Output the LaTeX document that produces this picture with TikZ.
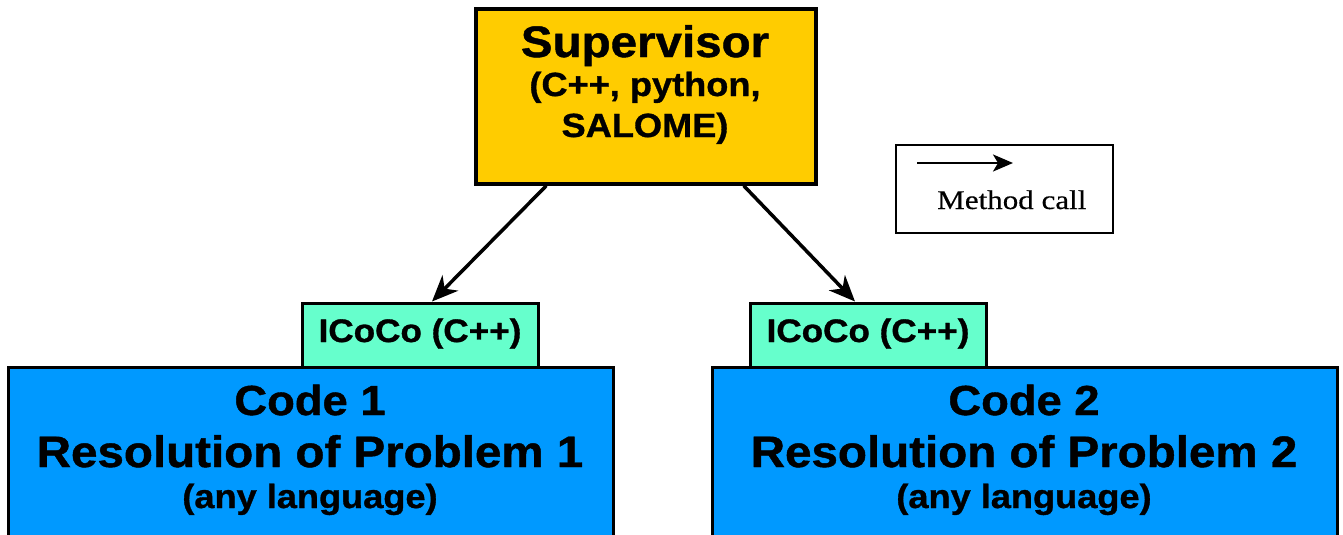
\documentclass[tikz,border=0pt]{standalone}
\usepackage{fontspec}
\setmainfont{Liberation Serif}
\setsansfont{Liberation Sans}
\newfontfamily\arialwide{Liberation Sans}[FakeStretch=1.08,FakeBold=1]
\newfontfamily\serifwide{Liberation Serif}[FakeStretch=1.15,FakeBold=0.4]
\usetikzlibrary{arrows.meta}
\definecolor{supgold}{HTML}{FFCC00}
\definecolor{icteal}{HTML}{66FFCC}
\definecolor{codeblue}{HTML}{0099FF}
\begin{document}
\begin{tikzpicture}[x=1pt,y=-1pt,
  box/.style={draw=black, line width=3pt, rectangle, inner sep=0pt},
  lbl/.style={anchor=base, inner sep=0pt, font=\arialwide\bfseries},
  call/.style={-{Stealth[length=26pt,width=22pt,inset=8pt]}, line width=3.5pt},
]
\useasboundingbox (0,0) rectangle (1343,535);
\clip (0,0) rectangle (1343,535);

% supervisor
\node[box, fill=supgold, line width=3.5pt, minimum width=340pt, minimum height=175pt] (sup) at (646,96.5) {};
\node[lbl] (supA) at (645,57) {\fontsize{44}{50}\selectfont Supervisor};
\node[lbl] (supB) at (645,96) {\fontsize{33.5}{38}\selectfont (C++, python,};
\node[lbl] (supC) at (645,137) {\fontsize{33.5}{38}\selectfont SALOME)};

% ICoCo boxes
\node[box, fill=icteal, minimum width=236pt, minimum height=64pt] (ic1) at (420,335) {};
\node[box, fill=icteal, minimum width=236pt, minimum height=64pt] (ic2) at (868,335) {};
\node[lbl] (ic1t) at (420,342) {\fontsize{32.5}{36}\selectfont ICoCo (C++)};
\node[lbl] (ic2t) at (868,342) {\fontsize{32.5}{36}\selectfont ICoCo (C++)};

% code boxes
\node[box, fill=codeblue, minimum width=605pt, minimum height=183pt] (code1) at (310.5,458.5) {};
\node[box, fill=codeblue, minimum width=625pt, minimum height=183pt] (code2) at (1024.5,458.5) {};
\node[lbl] (c1a) at (310,415) {\fontsize{42}{46}\selectfont Code 1};
\node[lbl] (c1b) at (310,467) {\fontsize{44}{48}\selectfont Resolution of Problem 1};
\node[lbl] (c1c) at (310,508) {\fontsize{33.5}{38}\selectfont (any language)};
\node[lbl] (c2a) at (1024,415) {\fontsize{42}{46}\selectfont Code 2};
\node[lbl] (c2b) at (1024,467) {\fontsize{44}{48}\selectfont Resolution of Problem 2};
\node[lbl] (c2c) at (1024,508) {\fontsize{33.5}{38}\selectfont (any language)};

% method calls
\draw[call] ([xshift=72pt]sup.south west) -- ([xshift=12pt]ic1.north);
\draw[call] ([xshift=-74pt]sup.south east) -- ([xshift=-13pt]ic2.north);

% legend
\node[draw=black, line width=2.5pt, fill=white, minimum width=217pt, minimum height=88pt] (legend) at (1004.5,189) {};
\coordinate (la) at (917,163);
\coordinate (lb) at (1013,163);
\draw[-{Stealth[length=20pt,width=17pt,inset=5pt]}, line width=2.5pt] (la) -- (lb);
\node[anchor=base west, inner sep=0pt, font=\serifwide] (legt) at (937,209) {\fontsize{27}{30}\selectfont Method call};
\end{tikzpicture}
\end{document}
